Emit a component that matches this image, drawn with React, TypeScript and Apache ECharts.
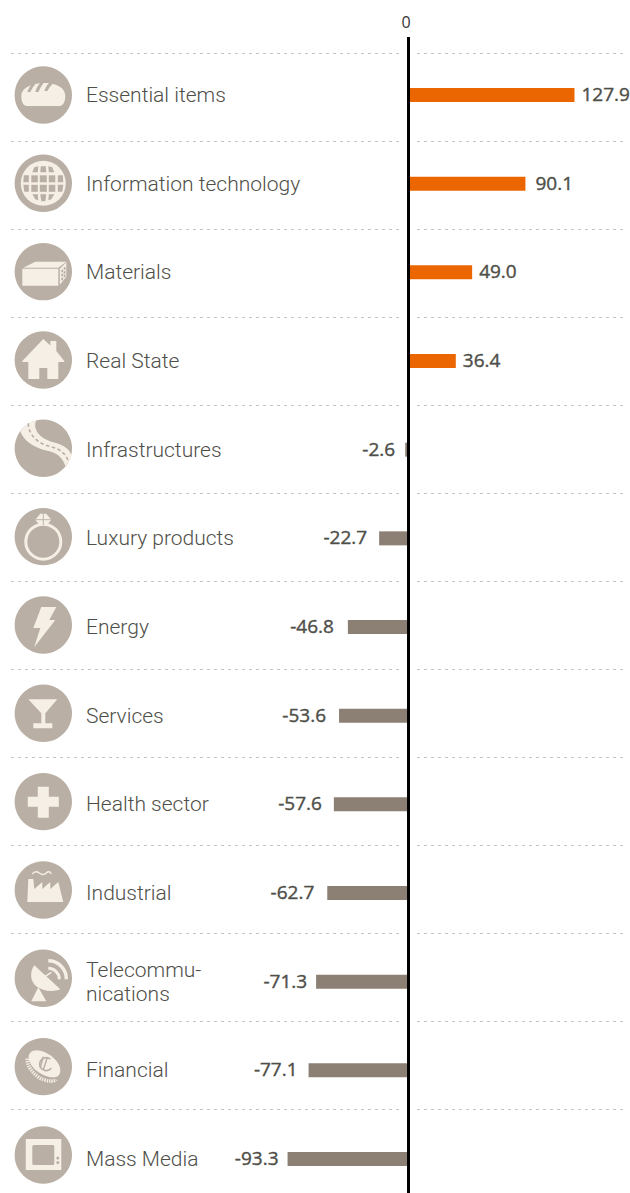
import React, { useEffect, useRef } from "react";
import * as echarts from "echarts";

const categories = ["Essential items", "Information technology", "Materials", "Real State", "Infrastructures", "Luxury products", "Energy", "Services", "Health sector", "Industrial", "Telecommu-\nnications", "Financial", "Mass Media"];
const values = [127.9, 90.1, 49.0, 36.4, -2.6, -22.7, -46.8, -53.6, -57.6, -62.7, -71.3, -77.1, -93.3];
const iconKeys = ["bread", "globe", "box", "house", "road", "ring", "bolt", "martini", "cross", "factory", "dish", "coin", "tv"];
const zeroTick = [0];
const separators = [0, 12];

const CIRCLE = "#b9afa5";
const CREAM = "#f6efe6";
const ORANGE = "#eb6600";
const BROWN = "#8c7f74";
const TEXT = "#4f4f49";
const LABEL_FONT = "Roboto";
const VALUE_FONT = "Open Sans";

type Piece = { d: string; fill?: string; stroke?: string; w?: number; dash?: number[] };
const f = (d: string): Piece => ({ d, fill: CREAM });
const g = (d: string): Piece => ({ d, fill: CIRCLE });
const s = (d: string, w = 2, stroke = CREAM, dash?: number[]): Piece => ({ d, stroke, w, dash });
const r = (x: number, y: number, w: number, h: number) => `M${x} ${y}H${x + w}V${y + h}H${x}Z`;
const disc = (cx: number, cy: number, rad: number) => `M${cx - rad} ${cy}A${rad} ${rad} 0 1 1 ${cx + rad} ${cy}A${rad} ${rad} 0 1 1 ${cx - rad} ${cy}Z`;

const ICONS: Record<string, Piece[]> = {
  bread: [
    f("M-16 11C-21 11 -22 5 -22 1C-22 -8 -10 -12 2 -12C13 -12 22 -7 22 1C22 6 20 11 16 11Z"),
    g("M-16 -3Q-14 -9 -10 -12L-7 -12Q-11 -8 -13 -3Z"),
    g("M-8 -3Q-6 -10 -2 -13L1 -13Q-3 -8 -5 -3Z"),
    g("M1 -4Q3 -10 7 -13L10 -12Q6 -8 4 -4Z"),
  ],
  globe: [
    f(disc(0, 0, 22.5)),
    g(r(-3.5, -8, 7, 7)), g(r(-3.5, 1.5, 7, 7)),
    g(r(-12, -8, 6.5, 7)), g(r(-12, 1.5, 6.5, 7)),
    g(r(5.5, -8, 6.5, 7)), g(r(5.5, 1.5, 6.5, 7)),
    g("M-19.5 -8H-14.5V-1H-20Z"), g("M-20 1.5H-14.5V8.5H-19Z"),
    g("M14.5 -8H19.5L20 -1H14.5Z"), g("M14.5 1.5H20L19 8.5H14.5Z"),
    g("M-2.5 -17H2.5L3 -11H-3Z"), g("M-9 -16L-5 -17L-5.5 -11H-11Z"), g("M5 -17L9 -16L11 -11H5.5Z"),
    g("M-3 11H3L2 18H-2Z"), g("M-11 11H-5.5L-5 17L-8 16Z"), g("M5.5 11H11L8 16L5 17Z"),
  ],
  box: [
    f("M-20 -4L-8 -10H23L15 -4Z"),
    f(r(-21, -3, 36, 17)),
    f("M16.5 -3L23 -9.5L23 5L16.5 13Z"),
    g(r(18, -2, 1.8, 2.6)), g(r(20.4, -4.5, 1.8, 2.6)),
    g(r(18, 2, 1.8, 2.6)), g(r(20.4, -0.5, 1.8, 2.6)),
    g(r(18, 6, 1.8, 2.6)), g(r(20.4, 3, 1.8, 2.6)),
  ],
  house: [
    f("M0 -21L7 -14.5V-19H13V-9L21 1V2H15V19H4V8H-4V19H-15V2H-21V1Z"),
  ],
  road: [
    f("M-23 -17A28.7 28.7 0 0 1 -7 -28C-11 -19 -4 -10 10 -6C20 -4 28 2 28 8A28.7 28.7 0 0 1 22 18C20 10 14 4 2 2C-10 -1 -20 -8 -23 -17Z"),
    s("M-15 -25C-15 -14 -6 -5 6 -2C16 0 24 6 25 14", 1.6, CIRCLE, [3.5, 2.5]),
  ],
  ring: [
    s(disc(0, 5, 17.5), 3),
    f("M-8 -17L-3 -23H3L8 -17L3 -11H-3Z"),
    s("M-8 -17H8M0 -23V-11", 0.9, CIRCLE),
  ],
  bolt: [f("M-2 -18H13L6 -5H12L-9 22L-3 3H-10Z")],
  martini: [
    f("M-15 -14H14L2 0V10H9V15H-10V10H-2V0Z"),
  ],
  cross: [f("M-5.5 -15H5.5V-5H15.5V5H5.5V16H-5.5V5H-15.5V-5H-5.5Z")],
  factory: [
    f("M-16 12L-15 -11H-10L-9 -1L-1 -8V-1L7 -8V-1L15 -8L20 12Z"),
    s("M-11 -16Q-8 -20 -4 -17T3 -17T8 -16", 1.4),
  ],
  dish: [
    f("M-9 -13C-14 -6 -13 3 -7 8C-1 13 10 14 17 11Z"),
    f("M-12 23L-5 9L3 23Z"),
    s("M5 -17.5A18 18 0 0 1 23 1", 3.4),
    s("M5 -10A11 11 0 0 1 16 1", 3),
    s("M2 -2L8 -6", 1.6),
  ],
  coin: [
    s("M-16 -8C-17 0 -8 10 0 13C6 15 11 15 13 13", 3.5, CREAM, [1.4, 1]),
    f("M-13 -14C-8 -19 3 -15 10 -9C17 -3 19 5 15 9C10 13 -1 9 -8 3C-14 -3 -17 -10 -13 -14Z"),
    s("M7 -7.5A6.5 6.5 0 1 0 8 1.5", 1.6, CIRCLE),
    s("M-3 1L0 -10M0 3L4 -9", 1.5, CIRCLE),
  ],
  tv: [
    f(r(-17.5, -16, 35.5, 31)),
    g("M-9.5 -10H9.5Q11 -10 11 -8.5V8.5Q11 10 9.5 10H-9.5Q-11 10 -11 8.5V-8.5Q-11 -10 -9.5 -10Z"),
    g(disc(14.5, 3, 1.5)), g(disc(14.5, 7.5, 1.5)),
  ],
};

Object.keys(ICONS).forEach((k) => {
  ICONS[k].forEach((p, i) => {
    echarts.graphic.registerShape(`icon_${k}_${i}`, echarts.graphic.extendPath(p.d, {}) as any);
  });
});

export default function App() {
  const ref = useRef<HTMLDivElement>(null);
  useEffect(() => {
    const chart = echarts.init(ref.current!, undefined, { renderer: "svg" });
    const labelGaps = [7, 10, 7, 7, 10, 12, 14, 13, 12, 13, 9, 11, 9];
    const renderIcon = (params: any, api: any) => {
      const key = iconKeys[params.dataIndex];
      const [x, y] = api.coord([0, api.value(1)]);
      return {
        type: "group",
        x,
        y,
        children: [
          { type: "circle", shape: { cx: 0, cy: 0, r: 28.7 }, style: { fill: CIRCLE } },
          ...ICONS[key].map((p, i) => ({
            type: `icon_${key}_${i}`,
            style: {
              fill: p.fill ?? "none",
              stroke: p.stroke ?? "none",
              lineWidth: p.w ?? 0,
              lineDash: p.dash,
            },
          })),
        ],
      };
    };
    chart.setOption({
      animation: false,
      backgroundColor: "#ffffff",
      grid: [
        { left: 86, right: 0, top: 50.67, height: 1152.7 },
        { left: 11, right: 4, top: 53, height: 1056 },
        { left: 43.3, width: 1, top: 50.83, height: 1148.3 },
      ],
      xAxis: [
        {
          gridIndex: 0,
          type: "value",
          position: "top",
          min: -248.7,
          max: 170.7,
          splitLine: { show: false },
          axisLine: { show: false },
          axisTick: { show: false },
          axisLabel: {
            customValues: zeroTick,
            margin: 21,
            color: "#333333",
            fontFamily: VALUE_FONT,
            fontSize: 16,
            padding: [0, 5, 0, 0],
          },
        },
        { gridIndex: 1, type: "value", min: 0, max: 1, show: false },
        { gridIndex: 2, type: "value", min: 0, max: 1, show: false },
      ],
      yAxis: [
        {
          gridIndex: 0,
          type: "category",
          inverse: true,
          data: categories,
          axisLine: { show: false },
          axisTick: { show: false },
          axisLabel: {
            inside: true,
            margin: 0,
            align: "left",
            color: TEXT,
            fontFamily: LABEL_FONT,
            fontWeight: 300,
            fontSize: 21,
            lineHeight: 24,
            padding: [0, 0, 3, 0],
          },
        },
        {
          gridIndex: 1,
          type: "value",
          inverse: true,
          min: separators[0],
          max: separators[1],
          interval: 1,
          axisLine: { show: false },
          axisTick: { show: false },
          axisLabel: { show: false },
          splitLine: { show: true, lineStyle: { color: "#c6c6c6", width: 1, type: [3, 4] } },
        },
        {
          gridIndex: 2,
          type: "category",
          inverse: true,
          data: iconKeys,
          show: false,
        },
      ],
      series: [
        {
          type: "scatter",
          xAxisIndex: 0,
          yAxisIndex: 0,
          z: 1,
          data: [],
          markLine: {
            z: 1,
            silent: true,
            symbol: "none",
            label: { show: false },
            lineStyle: { color: "#ffffff", width: 11, type: "solid" },
            data: [[{ xAxis: 0, y: 37 }, { xAxis: 0, y: 1193 }]],
          },
        },
        {
          type: "bar",
          xAxisIndex: 0,
          yAxisIndex: 0,
          barWidth: 14,
          z: 2,
          data: values.map((v, i) => ({
            value: v,
            itemStyle: { color: v >= 0 ? ORANGE : BROWN },
            label: { position: v >= 0 ? "right" : "left", distance: labelGaps[i] },
          })),
          label: {
            show: true,
            offset: [0, -1],
            color: TEXT,
            fontFamily: VALUE_FONT,
            fontWeight: 400,
            fontSize: 19,
            textBorderColor: TEXT,
            textBorderWidth: 0.4,
            formatter: (p: any) => Number(p.value).toFixed(1),
          },
          markLine: {
            z: 5,
            silent: true,
            symbol: "none",
            label: { show: false },
            lineStyle: { color: "#000000", width: 3, type: "solid" },
            data: [[{ xAxis: 0, y: 37 }, { xAxis: 0, y: 1193 }]],
          },
        },
        {
          type: "custom",
          xAxisIndex: 2,
          yAxisIndex: 2,
          encode: { x: 0, y: 1 },
          data: iconKeys.map((k) => [0, k]),
          renderItem: renderIcon,
          z: 3,
        },
      ],
    });
    return () => chart.dispose();
  }, []);
  return (
    <div style={{ position: "absolute", left: 0, top: 0, width: 630, height: 1193, overflow: "hidden" }}>
      <div ref={ref} style={{ width: 630, height: 1260 }} />
    </div>
  );
}
